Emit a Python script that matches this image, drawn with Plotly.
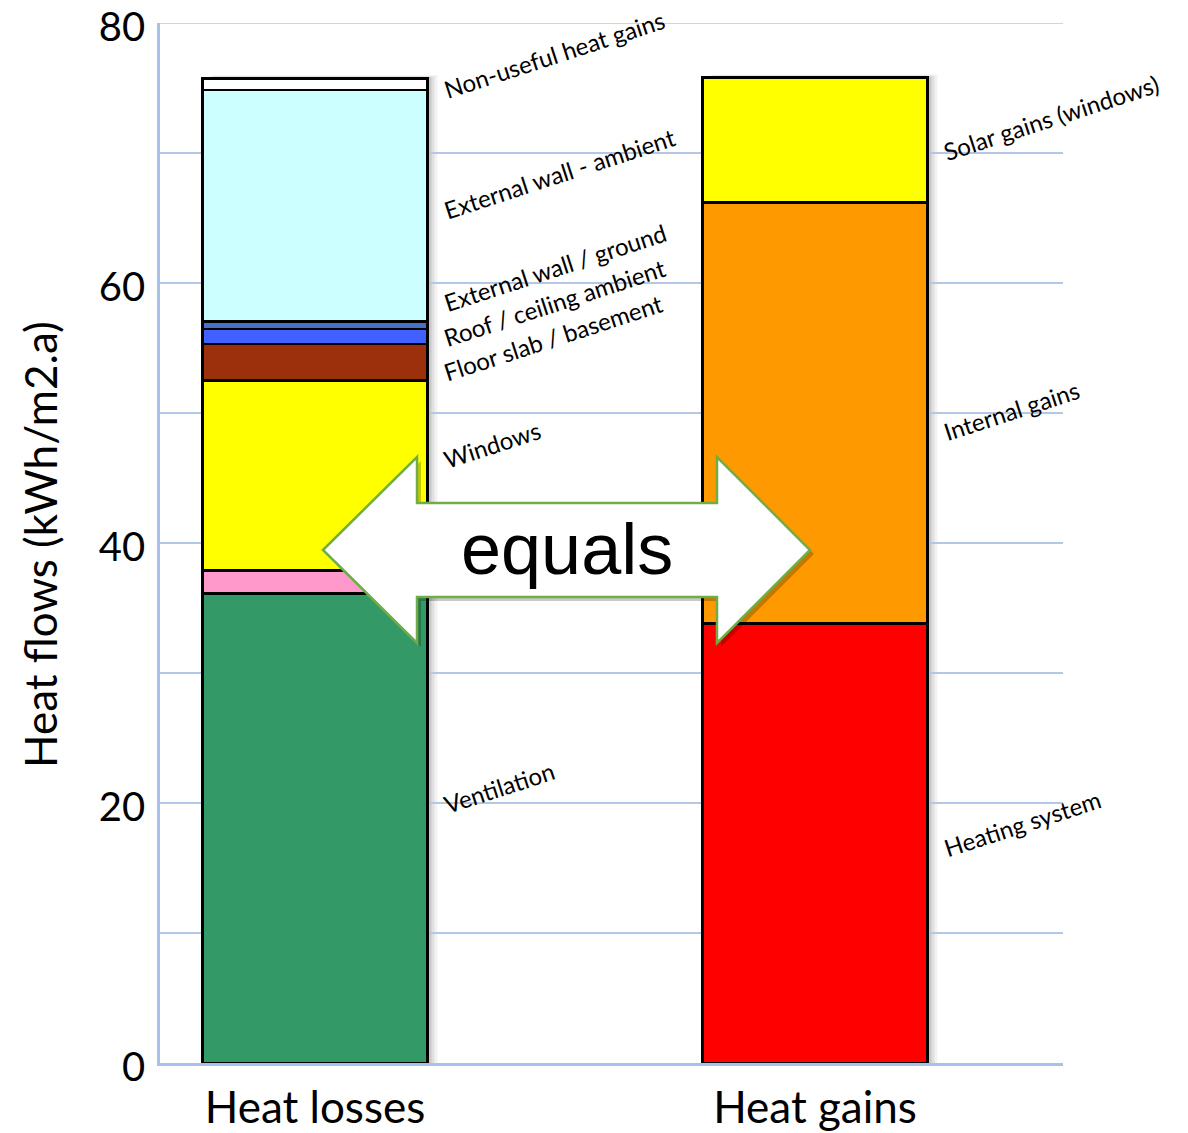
import plotly.graph_objects as go

# ---- data ----
categories = ["Heat losses", "Heat gains"]
loss_names = ["Ventilation", "Thermal bridges", "Windows", "Floor slab / basement",
              "Roof / ceiling ambient", "External wall / ground",
              "External wall - ambient", "Non-useful heat gains"]
loss_values = [36.1, 1.8, 14.6, 2.8, 1.15, 0.6, 17.8, 0.9]
loss_colors = ["#339966", "#ff99cc", "#ffff00", "#9c2f0c", "#4060ff", "#4472c4", "#ccffff", "#ffffff"]

gain_names = ["Heating system", "Internal gains", "Solar gains (windows)"]
gain_values = [33.8, 32.4, 9.6]
gain_colors = ["#ff0000", "#ff9900", "#ffff00"]

# label texts and their vertical positions (data units)
loss_labels = ["Non-useful heat gains", "External wall - ambient", "External wall / ground",
               "Roof / ceiling ambient", "Floor slab / basement", "Windows", "Ventilation"]
loss_label_y = [77.6, 68.4, 61.2, 58.5, 55.8, 47.6, 21.2]
gain_labels = ["Solar gains (windows)", "Internal gains", "Heating system"]
gain_label_y = [72.7, 50.2, 18.4]

y_ticks = [0, 20, 40, 60, 80]
Y_MAX = 80
y_title = "Heat flows (kWh/m2.a)"

BAR_W = 0.45
fig = go.Figure()

# soft drop shadows behind the bars (derived from stacked totals)
shapes = []
for xc, total in ((0, sum(loss_values)), (1, sum(gain_values))):
    for k, op in ((10, 0.05), (7, 0.07), (4, 0.10)):
        dx = k / 500.0
        dy = k / 13.0
        shapes.append(dict(type="rect", xref="x", yref="y", layer="below",
                           x0=xc - BAR_W / 2 + dx, x1=xc + BAR_W / 2 + dx,
                           y0=0, y1=total + dy * 0.3,
                           fillcolor=f"rgba(0,0,0,{op})", line=dict(width=0)))

GRID = "#b4c7e7"
AXIS = "#a9c0ea"
# top gridline (plotly drops gridlines lying on the range end)
shapes.append(dict(type="line", xref="paper", yref="y", x0=0, x1=1, y0=Y_MAX, y1=Y_MAX,
                   line=dict(color=GRID, width=1.5), layer="below"))

for n, v, c in zip(loss_names, loss_values, loss_colors):
    fig.add_trace(go.Bar(x=[0], y=[v], name=n, width=BAR_W,
                         marker=dict(color=c, line=dict(color="black", width=2.5)),
                         hoverinfo="name+y"))
for n, v, c in zip(gain_names, gain_values, gain_colors):
    fig.add_trace(go.Bar(x=[1], y=[v], name=n, width=BAR_W,
                         marker=dict(color=c, line=dict(color="black", width=2.5)),
                         hoverinfo="name+y"))

LABEL_FONT = dict(family="Lato", size=24, color="black")
annotations = []
for t, y in zip(loss_labels, loss_label_y):
    annotations.append(dict(x=0.245, y=y, xref="x", yref="y", text=t, showarrow=False,
                            textangle=-18, xanchor="left", yanchor="middle", font=LABEL_FONT))
for t, y in zip(gain_labels, gain_label_y):
    annotations.append(dict(x=1.245, y=y, xref="x", yref="y", text=t, showarrow=False,
                            textangle=-18, xanchor="left", yanchor="middle", font=LABEL_FONT))

# y axis title placed as a rotated annotation
annotations.append(dict(x=-0.133, y=0.499, xref="paper", yref="paper", text=y_title,
                        showarrow=False, textangle=-90, xanchor="center", yanchor="middle",
                        font=dict(family="Lato", size=44, color="black")))

# double arrow "equals" (pixel geometry converted to data units)
def px2x(px):
    return (px - 315) / 500.0

def py2y(py):
    return (1063 - py) / 13.0

pts = [(323, 550), (417, 457), (417, 503), (717, 503), (717, 457), (810, 550),
       (717, 643), (717, 597), (417, 597), (417, 643)]
path = "M " + " L ".join(f"{px2x(a):.4f},{py2y(b):.4f}" for a, b in pts) + " Z"
shadow = "M " + " L ".join(f"{px2x(a+4):.4f},{py2y(b+4):.4f}" for a, b in pts) + " Z"
shapes += [
    dict(type="path", path=shadow, xref="x", yref="y", fillcolor="rgba(0,0,0,0.22)",
         line=dict(width=0), layer="above"),
    dict(type="path", path=path, xref="x", yref="y", fillcolor="white",
         line=dict(color="#70ad47", width=2.5), layer="above"),
]
annotations.append(dict(x=px2x(567), y=py2y(549), xref="x", yref="y", text="equals",
                        showarrow=False, font=dict(family="Liberation Sans", size=72, color="black"),
                        xanchor="center", yanchor="middle"))

fig.update_layout(
    width=1180, height=1125,
    margin=dict(l=152, r=125, t=15, b=70, autoexpand=False),
    barmode="stack", showlegend=False,
    plot_bgcolor="white", paper_bgcolor="white",
    font=dict(family="Lato", color="black"),
    shapes=shapes, annotations=annotations,
    xaxis=dict(range=[-0.31, 1.496], tickvals=[0, 1], ticktext=categories, automargin=False,
               showgrid=False, zeroline=False, showline=True, linecolor=AXIS, linewidth=2.5,
               tickfont=dict(size=44, family="Lato"), ticks="", ticklabelstandoff=4,
               ticklabeloverflow="allow"),
    yaxis=dict(range=[0, Y_MAX], tickmode="array", tickvals=y_ticks, automargin=False,
               showgrid=True, gridcolor=GRID, gridwidth=1.5, zeroline=False,
               showline=True, linecolor=AXIS, linewidth=2.5,
               minor=dict(showgrid=True, gridcolor=GRID, gridwidth=1.5, dtick=10, tick0=0),
               tickfont=dict(size=40, family="Lato"), ticks="", ticklabelstandoff=4,
               ticklabelshift=4, ticklabeloverflow="allow"),
)

fig.write_html("out.html")
